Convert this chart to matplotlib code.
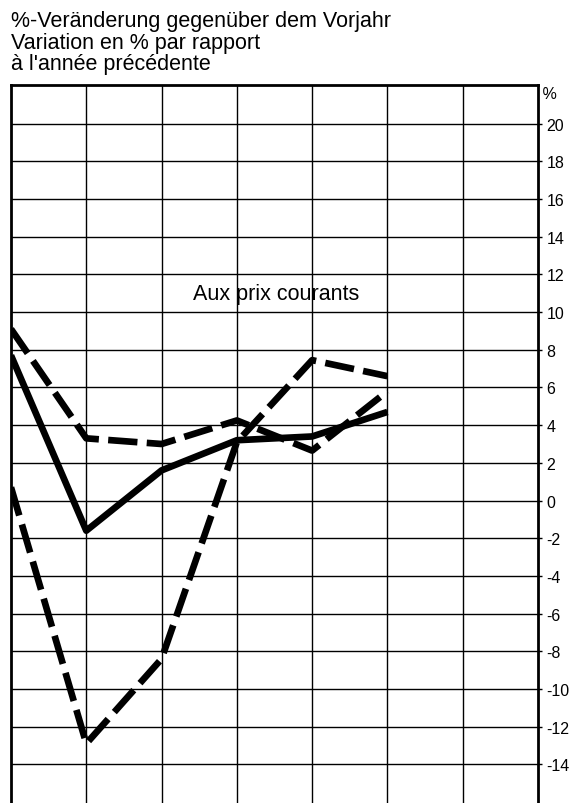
import matplotlib
matplotlib.use("Agg")
import matplotlib.pyplot as plt

plt.rcParams['font.family'] = ['Liberation Sans', 'DejaVu Sans']

# year positions (unlabelled columns)
years = [0, 1, 2, 3, 4, 5]
solid = [7.7, -1.6, 1.6, 3.2, 3.4, 4.7]
dash_a = [9.1, 3.3, 3.0, 4.25, 2.65, 5.8]
dash_b = [0.7, -12.9, -8.4, 3.1, 7.45, 6.6]

yticks = list(range(-14, 21, 2))
ytick_labels = [str(v) for v in yticks]

title_lines = ["%-Veränderung gegenüber dem Vorjahr",
               "Variation en % par rapport",
               "à l'année précédente"]

fig = plt.figure(figsize=(5.82, 8.04), dpi=100)
ax = fig.add_axes([11 / 582, 0, 527 / 582, 1 - 86 / 804])

ax.set_xlim(0, 7)
ax.set_ylim(-16.05, 22.05)

# grid
for x in range(1, 7):
    ax.axvline(x, color='black', lw=1.0, zorder=1)
for y in yticks:
    ax.axhline(y, color='black', lw=1.0, zorder=1)

ax.plot(years, solid, color='black', lw=4.8, solid_capstyle='butt', zorder=3)
ax.plot(years, dash_a, color='black', lw=4.8, dashes=(4.4, 1.4),
        dash_capstyle='butt', zorder=3)
ax.plot(years, dash_b, color='black', lw=4.8, dashes=(4.4, 1.4),
        dash_capstyle='butt', zorder=3)

ax.text(2.42, 11.0, "Aux prix courants", fontsize=15.5, ha='left',
        va='center', zorder=4)

for s in ['left', 'top', 'right']:
    ax.spines[s].set_linewidth(2.0)
ax.spines['bottom'].set_visible(False)

ax.set_xticks([])
ax.yaxis.tick_right()
ax.set_yticks(yticks)
ax.set_yticklabels(ytick_labels, fontsize=11.5)
ax.tick_params(axis='y', direction='out', length=3, width=1, pad=3)

ax.text(1.0, 21.6, " %", transform=ax.get_yaxis_transform(), fontsize=11.5,
        ha='left', va='center', clip_on=False)

for i, line in enumerate(title_lines):
    fig.text(11 / 582, 1 - (27 + 21.5 * i) / 804, line, fontsize=15.5,
             ha='left', va='baseline')

fig.savefig("out.png", dpi=100)
